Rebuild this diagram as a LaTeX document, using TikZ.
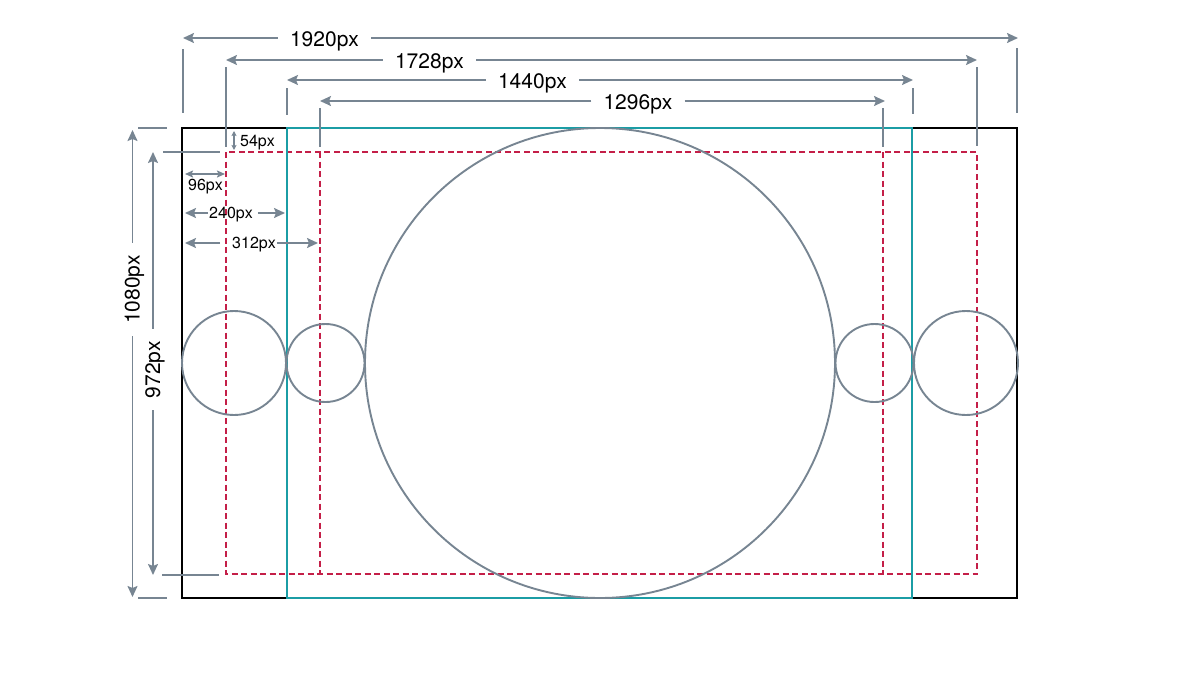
\documentclass[tikz,border=0pt]{standalone}
\usepackage{fontspec}
\setmainfont{TeX Gyre Heros}
\usetikzlibrary{arrows.meta}
\usetikzlibrary{positioning}
\definecolor{dim_gray}{HTML}{778592}
\definecolor{safe_red}{HTML}{C41F48}
\definecolor{ratio_teal}{HTML}{1B9DA5}
\tikzstyle{dim_line} = [
    draw=dim_gray, 
    line width=1.7pt
]
\tikzstyle{dim_arrow} = [
    dim_line, 
    -{Stealth[length=11pt, width=10pt, inset=2pt]}
]
\tikzstyle{short_arrow} = [
    dim_line, 
    {Stealth[length=8pt, width=7pt, inset=1.5pt]}-{Stealth[length=8pt, width=7pt, inset=1.5pt]}
]
\tikzstyle{tiny_arrow} = [
    dim_line, 
    line width=1.2pt, 
    {Stealth[length=5pt, width=5pt, inset=1pt]}-{Stealth[length=5pt, width=5pt, inset=1pt]}
]
\tikzstyle{big_label} = [
    font=\fontsize{21}{24}\selectfont, 
    inner xsep=12pt, 
    inner ysep=0pt
]
\tikzstyle{small_label} = [
    font=\fontsize{16}{18}\selectfont, 
    inner xsep=1pt, 
    inner ysep=0pt
]
\tikzstyle{frame_line} = [draw=black, line width=2pt]
\tikzstyle{ratio_line} = [draw=ratio_teal, line width=2pt]
\tikzstyle{safe_line} = [
    draw=safe_red, 
    line width=1.9pt, 
    dash pattern=on 6pt off 3.5pt
]
\tikzstyle{ring} = [draw=dim_gray, line width=1.9pt]

\begin{document}
\begin{tikzpicture}[x=1pt, y=-1pt]
\useasboundingbox (0,0) rectangle (1200,675);
% frame, 4:3 area, safe areas
\draw[frame_line] (182,128) rectangle (1017,598);
\draw[safe_line] (226,152) rectangle (977,574);
\draw[safe_line] (320,152) -- (320,574) (883,152) -- (883,574);
\draw[ratio_line] (287,128) rectangle (912,598);
% circles
\draw[ring] (600,363) circle[radius=235];
\draw[ring] (234,363) circle[radius=52];
\draw[ring] (325.5,363) circle[radius=39];
\draw[ring] (874.5,363) circle[radius=39];
\draw[ring] (966,363) circle[radius=52];
% extension lines
\draw[dim_line] 
    (183,49) -- (183,113) (1017,48) -- (1017,113)
    (226,67) -- (226,147) (977,67) -- (977,146)
    (287,88) -- (287,115) (913,88) -- (913,114)
    (320,108) -- (320,147) (883,108) -- (883,147)
    (138,128) -- (167,128) (138,598) -- (167,598)
    (163,152) -- (220,152) (162,575) -- (219,575);
% widths
\coordinate (w1920_l) at (183,38);  \coordinate (w1920_r) at (1018,38);
\coordinate (w1728_l) at (226,60);  \coordinate (w1728_r) at (977,60);
\coordinate (w1440_l) at (287,80);  \coordinate (w1440_r) at (913,80);
\coordinate (w1296_l) at (320,101); \coordinate (w1296_r) at (885,101);
\node[big_label] (lbl_1920) at (324.5,41.5) {1920px};
\node[big_label] (lbl_1728) at (429.5,63) {1728px};
\node[big_label] (lbl_1440) at (532.5,83) {1440px};
\node[big_label] (lbl_1296) at (638,104.5) {1296px};
\draw[dim_arrow] (lbl_1920.west |- w1920_l) -- (w1920_l);
\draw[dim_arrow] (lbl_1920.east |- w1920_r) -- (w1920_r);
\draw[dim_arrow] (lbl_1728.west |- w1728_l) -- (w1728_l);
\draw[dim_arrow] (lbl_1728.east |- w1728_r) -- (w1728_r);
\draw[dim_arrow] (lbl_1440.west |- w1440_l) -- (w1440_l);
\draw[dim_arrow] (lbl_1440.east |- w1440_r) -- (w1440_r);
\draw[dim_arrow] (lbl_1296.west |- w1296_l) -- (w1296_l);
\draw[dim_arrow] (lbl_1296.east |- w1296_r) -- (w1296_r);
% heights
\coordinate (h1080_t) at (132.5,130); \coordinate (h1080_b) at (132.5,597);
\coordinate (h972_t) at (153,152);    \coordinate (h972_b) at (153,575);
\node[big_label, rotate=90] (lbl_1080) at (134.5,289.5) {1080px};
\node[big_label, rotate=90] (lbl_972) at (155,369.5) {972px};
\draw[dim_arrow] (h1080_t |- lbl_1080.east) -- (h1080_t);
\draw[dim_arrow] (h1080_b |- lbl_1080.west) -- (h1080_b);
\draw[dim_arrow] (h972_t |- lbl_972.east) -- (h972_t);
\draw[dim_arrow] (h972_b |- lbl_972.west) -- (h972_b);
% margins
\coordinate (m54_t) at (234,131); \coordinate (m54_b) at (234,150);
\draw[tiny_arrow] (m54_t) -- (m54_b);
\node[small_label, anchor=west] (lbl_54) at (239,143) {54px};
\coordinate (m96_l) at (185,174); \coordinate (m96_r) at (225,174);
\draw[short_arrow] (m96_l) -- (m96_r);
\node[small_label] (lbl_96) at (205.5,187) {96px};
\coordinate (m240_l) at (185,213); \coordinate (m240_r) at (285,213);
\node[small_label] (lbl_240) at (231,215) {240px};
\draw[dim_arrow] (lbl_240.west |- m240_l) -- (m240_l);
\draw[dim_arrow] ([xshift=4pt]lbl_240.east |- m240_r) -- (m240_r);
\coordinate (m312_l) at (185,243); \coordinate (m312_r) at (318,243);
\node[small_label] (lbl_312) at (254,245) {312px};
\draw[dim_arrow] ([xshift=-11pt]lbl_312.west |- m312_l) -- (m312_l);
\draw[dim_arrow] (lbl_312.east |- m312_r) -- (m312_r);
\end{tikzpicture}
\end{document}
